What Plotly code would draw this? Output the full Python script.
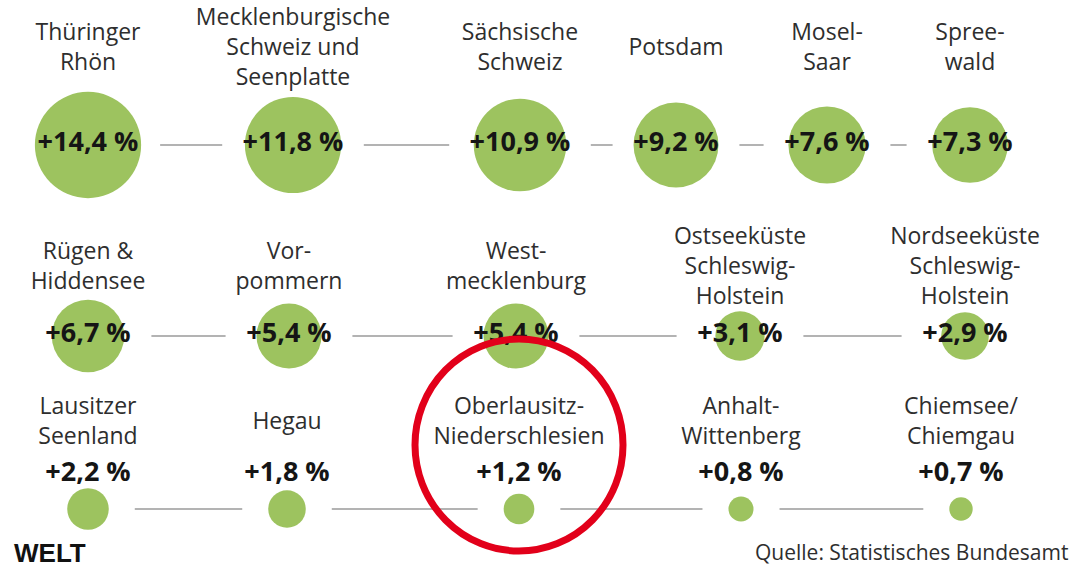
import math
import plotly.graph_objects as go

# ---------------- data ----------------
row1_names = ["Thüringer\nRhön", "Mecklenburgische\nSchweiz und\nSeenplatte", "Sächsische\nSchweiz",
              "Potsdam", "Mosel-\nSaar", "Spree-\nwald"]
row1_values = [14.4, 11.8, 10.9, 9.2, 7.6, 7.3]

row2_names = ["Rügen &\nHiddensee", "Vor-\npommern", "West-\nmecklenburg",
              "Ostseeküste\nSchleswig-\nHolstein", "Nordseeküste\nSchleswig-\nHolstein"]
row2_values = [6.7, 5.4, 5.4, 3.1, 2.9]

row3_names = ["Lausitzer\nSeenland", "Hegau", "Oberlausitz-\nNiederschlesien",
              "Anhalt-\nWittenberg", "Chiemsee/\nChiemgau"]
row3_values = [2.2, 1.8, 1.2, 0.8, 0.7]

highlight_row, highlight_index = 2, 2
source_text = "Quelle: Statistisches Bundesamt"
logo_text = "WELT"

# ---------------- layout (pixel grid) ----------------
W, H = 1071, 567
row_x = [[88, 293, 520, 676, 827, 970],
         [88, 289, 516, 740, 965],
         [88, 287, 519, 741, 961]]
row_circle_y = [145, 336, 509]
row_value_y = [144, 335, 474]
row_label_y = [49, 268, 423]
value_inside = [True, True, False]
SIZEREF = 1 / 392.0  # plotly area mode: radius = sqrt(v / (2*sizeref))

GREEN = "#9dc35f"
GREY_LINE = "#9a9a9a"
LABEL_FONT = "Open Sans"

rows = [(row1_names, row1_values), (row2_names, row2_values), (row3_names, row3_values)]


def fmt(v):
    return ("+%.1f %%" % v).replace(".", ",")


def radius_px(v):
    return math.sqrt(v / (2 * SIZEREF))


fig = go.Figure()

# connector lines
lx, ly = [], []
for r, (names, vals) in enumerate(rows):
    xs = row_x[r]
    if value_inside[r]:
        ext = [max(radius_px(v), 7.4 * len(fmt(v))) for v in vals]
        gap = 19
    else:
        ext = [radius_px(v) for v in vals]
        gap = 26
    for i in range(len(vals) - 1):
        a = xs[i] + ext[i] + gap
        b = xs[i + 1] - ext[i + 1] - gap
        if b > a:
            lx += [a, b, None]
            ly += [row_circle_y[r]] * 2 + [None]
fig.add_trace(go.Scatter(x=lx, y=ly, mode="lines", line=dict(color=GREY_LINE, width=1.5),
                         hoverinfo="skip"))

# circles
for r, (names, vals) in enumerate(rows):
    fig.add_trace(go.Scatter(
        x=row_x[r], y=[row_circle_y[r]] * len(vals), mode="markers",
        marker=dict(size=vals, sizemode="area", sizeref=SIZEREF, color=GREEN,
                    opacity=1, line=dict(width=0)),
        hoverinfo="skip", cliponaxis=False))

# value labels
for r, (names, vals) in enumerate(rows):
    fig.add_trace(go.Scatter(
        x=row_x[r], y=[row_value_y[r]] * len(vals), mode="text",
        text=[fmt(v) for v in vals], textposition="middle center",
        textfont=dict(family=LABEL_FONT, size=27, color="#151515", weight=700),
        hoverinfo="skip", cliponaxis=False))

# name labels
for r, (names, vals) in enumerate(rows):
    fig.add_trace(go.Scatter(
        x=row_x[r], y=[row_label_y[r]] * len(names), mode="text",
        text=[n.replace("\n", "<br>") for n in names], textposition="middle center",
        textfont=dict(family=LABEL_FONT, size=23, color="#2e2e2e"),
        hoverinfo="skip", cliponaxis=False))

# red highlight ring
hx = row_x[highlight_row][highlight_index]
hy = row_value_y[highlight_row] - 29
fig.add_shape(type="circle", xref="x", yref="y",
              x0=hx - 104, x1=hx + 104, y0=hy - 106, y1=hy + 106,
              line=dict(color="#e2001a", width=7), layer="above")

# logo & source
fig.add_annotation(x=12, y=553, xref="x", yref="y", text="<b>" + logo_text + "</b>",
                   showarrow=False, xanchor="left", yanchor="middle",
                   font=dict(family="Liberation Sans", size=26, color="#111111"))
fig.add_annotation(x=1070, y=552, xref="x", yref="y", text=source_text,
                   showarrow=False, xanchor="right", yanchor="middle",
                   font=dict(family=LABEL_FONT, size=21, color="#2e2e2e"))

fig.update_layout(
    width=W, height=H, margin=dict(l=0, r=0, t=0, b=0),
    paper_bgcolor="white", plot_bgcolor="white", showlegend=False,
    xaxis=dict(range=[0, W], visible=False, fixedrange=True),
    yaxis=dict(range=[H, 0], visible=False, fixedrange=True),
)

fig.write_html("out.html", config={"displayModeBar": False, "staticPlot": True},
               post_script="document.body.style.margin='0px';document.body.style.overflow='hidden';")
